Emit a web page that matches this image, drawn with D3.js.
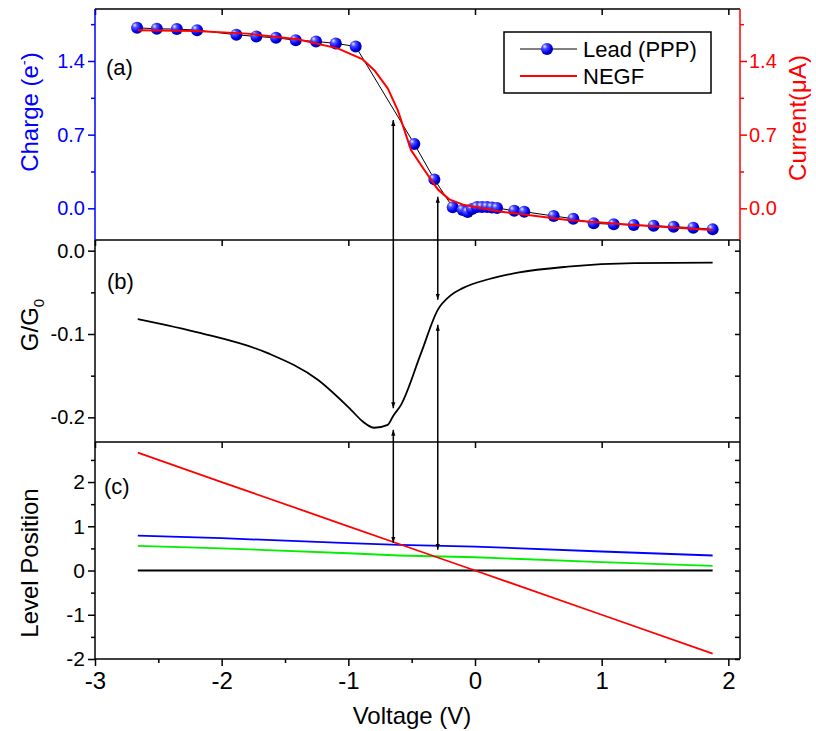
<!DOCTYPE html>
<html>
<head>
<meta charset="utf-8">
<script src="https://cdn.jsdelivr.net/npm/d3@7"></script>
<style>
  body { margin: 0; background: #fff; }
  svg text { font-family: "Liberation Sans", Arial, sans-serif; }
</style>
</head>
<body>
<svg id="chart" width="816" height="731"></svg>
<script>
// Panel (a): charge on the lead (PPP) – blue spheres
const pppV = [-2.668, -2.512, -2.354, -2.194, -1.884, -1.726, -1.571, -1.415, -1.255, -1.099, -0.942,
  -0.479, -0.321, -0.176, -0.097, -0.058, -0.024, 0.016, 0.055, 0.095, 0.134, 0.174,
  0.31, 0.389, 0.621, 0.776, 0.937, 1.095, 1.253, 1.41, 1.568, 1.723, 1.876];
const pppQ = [1.715, 1.706, 1.703, 1.693, 1.649, 1.633, 1.62, 1.598, 1.586, 1.567, 1.538,
  0.611, 0.275, 0.01, -0.016, -0.035, -0.007, 0.012, 0.012, 0.012, 0.008, 0.003,
  -0.023, -0.032, -0.073, -0.099, -0.143, -0.152, -0.159, -0.165, -0.175, -0.184, -0.2];

// Panel (a): NEGF current – red line (right axis)
const negfV = [-2.662, -2.2, -1.8, -1.4, -1.084, -0.886, -0.795, -0.689, -0.61, -0.505, -0.4, -0.294,
  -0.203, -0.084, 0.205, 0.732, 1.257, 1.876];
const negfI = [1.693, 1.684, 1.66, 1.607, 1.52, 1.415, 1.313, 1.14, 0.933, 0.553, 0.364, 0.18,
  0.085, 0.031, -0.032, -0.111, -0.159, -0.206];

// Panel (b): conductance G/G0
const gV = [-2.662, -2.163, -1.636, -1.241, -0.979, -0.886, -0.795, -0.689, -0.645, -0.584, -0.426,
  -0.294, -0.195, -0.097, 0.113, 0.337, 0.732, 1.257, 1.876];
const gG = [-0.082, -0.099, -0.123, -0.155, -0.191, -0.205, -0.2125, -0.209, -0.198, -0.185, -0.123,
  -0.071, -0.054, -0.045, -0.034, -0.0264, -0.0192, -0.015, -0.0144];

// Panel (c): level positions
const levV = [-2.662, -2, -1, -0.6, 0, 1, 1.876];
const levRed = [2.667, 2.0, 1.0, 0.6, 0, -1.0, -1.88];
const levBlue = [0.79, 0.73, 0.62, 0.58, 0.54, 0.43, 0.34];
const levGreen = [0.558, 0.5, 0.39, 0.34, 0.3, 0.19, 0.106];
const levBlack = [0, 0, 0, 0, 0, 0, 0];

// Tick values
const xTicks = [-3, -2, -1, 0, 1, 2];
const xMinor = [-2.5, -1.5, -0.5, 0.5, 1.5];
const aTicks = [0, 0.7, 1.4];
const aMinor = [0.35, 1.05, 1.75];
const bTicks = [-0.2, -0.1, 0.0];
const bMinor = [-0.15, -0.05];
const cTicks = [-2, -1, 0, 1, 2];
const cMinor = [-1.5, -0.5, 0.5, 1.5, 2.5];

// Double-headed arrows: voltage, start (panel, value) -> end (panel, value)
const arrows = [
  {v: -0.645, from: ['a', 0.84], to: ['b', -0.189]},
  {v: -0.645, from: ['b', -0.215], to: ['c', 0.625]},
  {v: -0.294, from: ['a', 0.11], to: ['b', -0.059]},
  {v: -0.294, from: ['b', -0.089], to: ['c', 0.467]}
];

const BLUE = '#0000ff', RED = '#ff0000', GREEN = '#00ee00';
const svg = d3.select('#chart');
const L = 95, R = 740;

const x = d3.scaleLinear().domain([-3, 2.092]).range([L, R]);
const y = {
  a: d3.scaleLinear().domain([-0.301, 1.894]).range([240, 9]),
  b: d3.scaleLinear().domain([-0.2296, 0.0128]).range([442, 240]),
  c: d3.scaleLinear().domain([-2, 2.905]).range([659, 442])
};

// sphere gradient for markers + arrow heads
const defs = svg.append('defs');
const grad = defs.append('radialGradient').attr('id', 'sphere')
  .attr('cx', '35%').attr('cy', '35%').attr('r', '65%').attr('fx', '30%').attr('fy', '28%');
grad.append('stop').attr('offset', '0%').attr('stop-color', '#e8e8ff');
grad.append('stop').attr('offset', '30%').attr('stop-color', '#5050ff');
grad.append('stop').attr('offset', '75%').attr('stop-color', '#0000f0');
grad.append('stop').attr('offset', '100%').attr('stop-color', '#0000a0');
['arrEnd', 'arrStart'].forEach((id, i) => {
  defs.append('marker').attr('id', id)
    .attr('viewBox', '0 0 10 10').attr('refX', 10).attr('refY', 5)
    .attr('markerWidth', 4).attr('markerHeight', 4)
    .attr('orient', i === 0 ? 'auto' : 'auto-start-reverse')
    .attr('markerUnits', 'strokeWidth')
    .append('path').attr('d', 'M0,1.5 L10,5 L0,8.5 Z').attr('fill', '#000');
});

function styleAxis(g, color, fontSize) {
  g.select('.domain').remove();
  g.selectAll('line').attr('stroke', color).attr('stroke-width', 1.5);
  g.selectAll('text').attr('fill', color).attr('font-size', fontSize);
}

function addAxis(gen, transform, color, fontSize) {
  const g = svg.append('g').attr('transform', transform).call(gen);
  styleAxis(g, color, fontSize || 20);
  return g;
}

const fmt1 = d => d.toFixed(1);
const fmt0 = d => String(d);

// ---- axes for each panel ----
['a', 'b', 'c'].forEach(p => {
  const ys = y[p];
  // top axis: inward major ticks only
  const tv = xTicks.filter(v => v <= x.domain()[1]);
  addAxis(d3.axisTop(x).tickValues(tv).tickSize(-6).tickFormat(''),
    `translate(0,${ys.range()[1]})`, '#000');
});

// panel a left (blue) and right (red), outward
addAxis(d3.axisLeft(y.a).tickValues(aTicks).tickSize(7).tickPadding(3).tickFormat(fmt1), `translate(${L},0)`, BLUE, 20);
addAxis(d3.axisLeft(y.a).tickValues(aMinor).tickSize(4).tickFormat(''), `translate(${L},0)`, BLUE);
addAxis(d3.axisRight(y.a).tickValues(aTicks).tickSize(7).tickPadding(2).tickFormat(fmt1), `translate(${R},0)`, RED, 20);
addAxis(d3.axisRight(y.a).tickValues(aMinor).tickSize(4).tickFormat(''), `translate(${R},0)`, RED);

// panel b
addAxis(d3.axisLeft(y.b).tickValues(bTicks).tickSize(7).tickPadding(3).tickFormat(fmt1), `translate(${L},0)`, '#000', 20);
addAxis(d3.axisLeft(y.b).tickValues(bMinor).tickSize(4).tickFormat(''), `translate(${L},0)`, '#000');
addAxis(d3.axisRight(y.b).tickValues(bTicks.concat(bMinor)).tickSize(-5).tickFormat(''), `translate(${R},0)`, '#000');

// panel c
addAxis(d3.axisLeft(y.c).tickValues(cTicks).tickSize(7).tickPadding(3).tickFormat(fmt0), `translate(${L},0)`, '#000', 21);
addAxis(d3.axisLeft(y.c).tickValues(cMinor).tickSize(4).tickFormat(''), `translate(${L},0)`, '#000');
addAxis(d3.axisRight(y.c).tickValues(cTicks.concat(cMinor)).tickSize(-5).tickFormat(''), `translate(${R},0)`, '#000');
addAxis(d3.axisBottom(x).tickValues(xTicks).tickSize(7).tickPadding(6).tickFormat(fmt0), `translate(0,${y.c.range()[0]})`, '#000', 24);
addAxis(d3.axisBottom(x).tickValues(xMinor).tickSize(4).tickFormat(''), `translate(0,${y.c.range()[0]})`, '#000');

// ---- frames ----
function hline(yy, color) {
  svg.append('line').attr('x1', L).attr('x2', R).attr('y1', yy).attr('y2', yy)
    .attr('stroke', color).attr('stroke-width', 1.5);
}
function vline(xx, y1, y2, color) {
  svg.append('line').attr('x1', xx).attr('x2', xx).attr('y1', y1).attr('y2', y2)
    .attr('stroke', color).attr('stroke-width', 1.5);
}
hline(9, '#000'); hline(240, '#000'); hline(442, '#000'); hline(659, '#000');
vline(L, 240, 659, '#000'); vline(R, 240, 659, '#000');
vline(L, 9, 240, BLUE); vline(R, 9, 240, RED);

// ---- data lines ----
function drawLine(vs, vals, ys, color, width, curve) {
  const pts = vs.map((v, i) => [x(v), ys(vals[i])]);
  svg.append('path').attr('d', d3.line().curve(curve || d3.curveLinear)(pts))
    .attr('fill', 'none').attr('stroke', color).attr('stroke-width', width)
    .attr('stroke-linejoin', 'round');
}

// panel a
drawLine(pppV, pppQ, y.a, '#000', 1);
svg.append('g').selectAll('circle')
  .data(pppV.map((v, i) => [v, pppQ[i]]))
  .join('circle')
  .attr('cx', d => x(d[0])).attr('cy', d => y.a(d[1])).attr('r', 6)
  .attr('fill', 'url(#sphere)');
drawLine(negfV, negfI, y.a, RED, 2);

// panel b
drawLine(gV, gG, y.b, '#000', 1.8, d3.curveMonotoneX);

// panel c
drawLine(levV, levBlack, y.c, '#000', 1.8);
drawLine(levV, levGreen, y.c, GREEN, 1.8);
drawLine(levV, levBlue, y.c, BLUE, 1.8);
drawLine(levV, levRed, y.c, RED, 1.8);

// arrows
arrows.forEach(a => {
  svg.append('line')
    .attr('x1', x(a.v)).attr('x2', x(a.v))
    .attr('y1', y[a.from[0]](a.from[1])).attr('y2', y[a.to[0]](a.to[1]))
    .attr('stroke', '#000').attr('stroke-width', 1.5)
    .attr('marker-start', 'url(#arrStart)').attr('marker-end', 'url(#arrEnd)');
});

// ---- legend ----
const lg = svg.append('g');
lg.append('rect').attr('x', 504).attr('y', 32).attr('width', 207).attr('height', 61)
  .attr('fill', '#fff').attr('stroke', '#000').attr('stroke-width', 1.5);
lg.append('line').attr('x1', 520).attr('x2', 577).attr('y1', 49).attr('y2', 49)
  .attr('stroke', '#000').attr('stroke-width', 1);
lg.append('circle').attr('cx', 547).attr('cy', 49).attr('r', 6).attr('fill', 'url(#sphere)');
lg.append('line').attr('x1', 520).attr('x2', 577).attr('y1', 76).attr('y2', 76)
  .attr('stroke', RED).attr('stroke-width', 2);
lg.append('text').attr('x', 583).attr('y', 57).attr('font-size', 22).text('Lead (PPP)');
lg.append('text').attr('x', 583).attr('y', 84).attr('font-size', 22).text('NEGF');

// ---- panel labels ----
[['(a)', 106, 75], ['(b)', 107, 289], ['(c)', 104, 494]].forEach(([t, xx, yy]) => {
  svg.append('text').attr('x', xx).attr('y', yy).attr('font-size', 22).text(t);
});

// ---- axis titles ----
function vTitle(xx, yy, color) {
  return svg.append('text').attr('transform', `translate(${xx},${yy}) rotate(-90)`)
    .attr('text-anchor', 'middle').attr('font-size', 24).attr('fill', color);
}
const tq = vTitle(38, 112, BLUE);
tq.append('tspan').text('Charge (e');
tq.append('tspan').attr('font-size', 15).attr('dy', -9).text('-');
tq.append('tspan').attr('dy', 9).text(')');

vTitle(806, 118, RED).text('Current(\u03bcA)');

const tg = vTitle(38, 325, '#000');
tg.append('tspan').text('G/G');
tg.append('tspan').attr('font-size', 15).attr('dy', 6).text('0');

vTitle(38, 563, '#000').text('Level Position');

svg.append('text').attr('x', 412).attr('y', 724).attr('text-anchor', 'middle')
  .attr('font-size', 24).text('Voltage (V)');
</script>
</body>
</html>
